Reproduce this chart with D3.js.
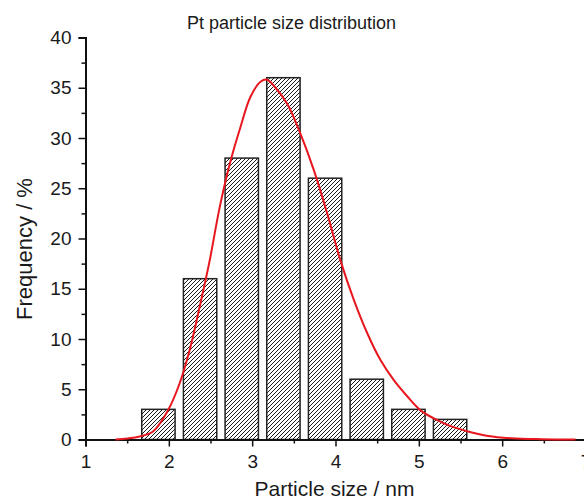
<!DOCTYPE html>
<html>
<head>
<meta charset="utf-8">
<script src="https://cdn.jsdelivr.net/npm/d3@7"></script>
<style>
  body { margin: 0; background: #fff; }
  text { font-family: "Liberation Sans", Arial, sans-serif; fill: #1a1a1a; }
</style>
</head>
<body>
<div id="chart"></div>
<script>
// histogram bins (centre of bin, nm) and frequency (%)
const binCenters = [1.875, 2.375, 2.875, 3.375, 3.875, 4.375, 4.875, 5.375];
const frequency = [3, 16, 28, 36, 26, 6, 3, 2];

// fitted curve
const fitX = [1.36, 1.5, 1.65, 1.81, 1.99, 2.13, 2.25, 2.37, 2.49, 2.61, 2.73, 2.86, 2.98, 3.10, 3.18, 3.26, 3.42, 3.58, 3.74, 3.90, 4.06, 4.22, 4.38, 4.54, 4.70, 4.86, 5.02, 5.18, 5.39, 5.59, 5.83, 6.11, 6.47, 6.88];
const fitY = [0, 0.1, 0.3, 0.8, 2.9, 5.6, 8.9, 13.2, 17.8, 23.1, 27.4, 31.1, 34.1, 35.6, 35.8, 35.2, 33.4, 30.4, 26.8, 22.5, 17.8, 13.9, 10.6, 7.9, 5.9, 4.3, 2.9, 2.1, 1.3, 0.8, 0.35, 0.12, 0.03, 0];

const xTicks = [1, 2, 3, 4, 5, 6, 7];
const xMinor = [1.5, 2.5, 3.5, 4.5, 5.5, 6.5];
const yTicks = [0, 5, 10, 15, 20, 25, 30, 35, 40];
const yMinor = [2.5, 7.5, 12.5, 17.5, 22.5, 27.5, 32.5, 37.5];

const W = 584, H = 499;
const barWidth = 0.4;

const svg = d3.select("#chart").append("svg")
  .attr("width", W)
  .attr("height", H);

// Skala
const x = d3.scaleLinear().domain([1, 7]).range([85.5, 585.5]);
const y = d3.scaleLinear().domain([0, 40]).range([439.5, 37.5]);

// hatch pattern
const defs = svg.append("defs");
const pat = defs.append("pattern")
  .attr("id", "hatch")
  .attr("patternUnits", "userSpaceOnUse")
  .attr("width", 4)
  .attr("height", 4);
pat.append("rect").attr("width", 4).attr("height", 4).attr("fill", "#fff");
pat.append("path")
  .attr("d", "M-1,1 L1,-1 M0,4 L4,0 M3,5 L5,3")
  .attr("stroke", "#1a1a1a")
  .attr("stroke-width", 1);

// bars
svg.append("g")
  .selectAll("rect")
  .data(binCenters)
  .join("rect")
  .attr("x", d => x(d - barWidth / 2))
  .attr("width", d => x(d + barWidth / 2) - x(d - barWidth / 2))
  .attr("y", (d, i) => y(frequency[i]))
  .attr("height", (d, i) => y(0) - y(frequency[i]))
  .attr("fill", "url(#hatch)")
  .attr("stroke", "#222")
  .attr("stroke-width", 1.5);

// axes
const tickFont = "19px";
svg.append("g")
  .attr("transform", "translate(0," + y(0) + ")")
  .attr("font-size", tickFont)
  .call(d3.axisBottom(x).tickValues(xTicks).tickSize(7).tickPadding(8).tickFormat(d3.format("d")))
  .attr("font-size", tickFont);
svg.append("g")
  .attr("transform", "translate(0," + y(0) + ")")
  .call(d3.axisBottom(x).tickValues(xMinor).tickSize(4).tickFormat(""))
  .select(".domain").remove();

svg.append("g")
  .attr("transform", "translate(" + x(1) + ",0)")
  .call(d3.axisLeft(y).tickValues(yTicks).tickSize(7).tickPadding(7))
  .attr("font-size", tickFont);
svg.append("g")
  .attr("transform", "translate(" + x(1) + ",0)")
  .call(d3.axisLeft(y).tickValues(yMinor).tickSize(4).tickFormat(""))
  .select(".domain").remove();

svg.selectAll(".domain").attr("stroke", "#111").attr("stroke-width", 2);
svg.selectAll(".tick line").attr("stroke", "#111").attr("stroke-width", 1.5);
svg.selectAll(".tick text")
  .attr("font-family", "'Liberation Sans', Arial, sans-serif")
  .style("font-size", tickFont)
  .attr("fill", "#1a1a1a");

// fitted curve
svg.append("path")
  .datum(fitX.map((d, i) => [d, fitY[i]]))
  .attr("fill", "none")
  .attr("stroke", "#e8161e")
  .attr("stroke-width", 2)
  .attr("d", d3.line()
    .x(d => x(d[0]))
    .y(d => y(d[1]))
    .curve(d3.curveCatmullRom));

// title
svg.append("text")
  .attr("x", 291.5)
  .attr("y", 29)
  .attr("text-anchor", "middle")
  .style("font-size", "18px")
  .text("Pt particle size distribution");

// x label
svg.append("text")
  .attr("x", 334.5)
  .attr("y", 496)
  .attr("text-anchor", "middle")
  .style("font-size", "21px")
  .text("Particle size / nm");

// y label
svg.append("text")
  .attr("transform", "translate(32,249) rotate(-90)")
  .attr("text-anchor", "middle")
  .style("font-size", "22px")
  .text("Frequency / %");
</script>
</body>
</html>
